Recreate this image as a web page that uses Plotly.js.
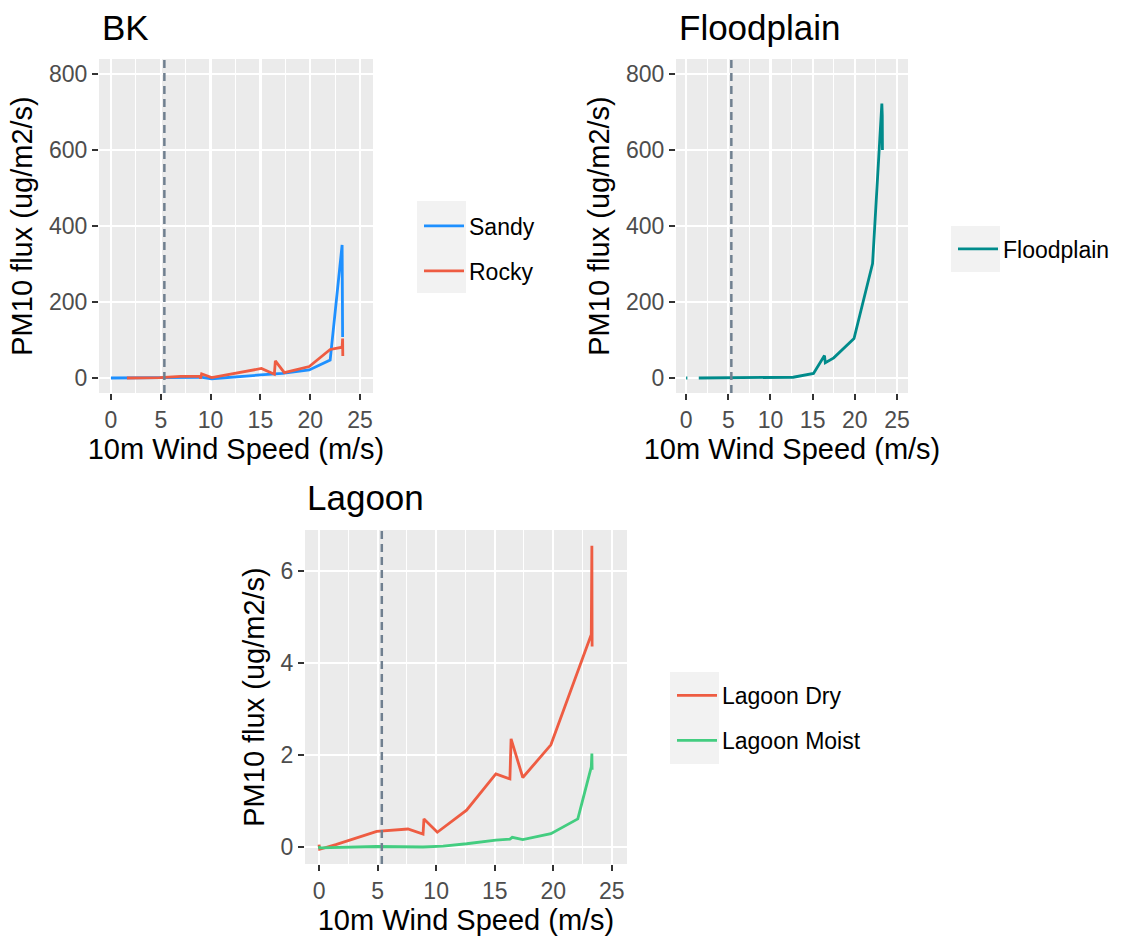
<!DOCTYPE html>
<html>
<head>
<meta charset="utf-8">
<script src="https://cdn.plot.ly/plotly-3.0.1.min.js"></script>
<style>
html,body{margin:0;padding:0;background:#fff;}
#chart{width:1127px;height:938px;}
</style>
</head>
<body>
<div id="chart"></div>
<script>
// ---- data ----
var bkSandyX = [0, 1.5, 5, 9, 10.1, 15, 17.2, 19.9, 22.0, 23.2, 23.25];
var bkSandyY = [0, 0, 1, 2, -2, 8, 12, 21, 47, 350, 108];

var bkRockyX = [1.6, 4.9, 7, 8.9, 9.0, 9.1, 10.1, 15.1, 16.4, 16.5, 17.4, 19.9, 22.0, 23.2, 23.25, 23.27];
var bkRockyY = [0, 1, 4, 5, -1, 11, 1, 25, 10, 45, 14, 30, 75, 81, 104, 58];

var floodX = [0, 0.15, 0.8, 1.5, 5, 11.3, 12.7, 15.1, 16.4, 16.5, 17.5, 19.9, 22.1, 23.2, 23.25, 23.27];
var floodY = [0, 0, null, 0, 0.5, 1, 2, 12, 59, 40, 53, 104, 301, 722, 690, 600];

var lagDryX = [0, 0.05, 1.43, 3.15, 4.93, 7.59, 8.88, 8.96, 10.1, 12.6, 15.1, 16.3, 16.4, 17.4, 19.8, 23.25, 23.3, 23.32];
var lagDryY = [0.05, -0.05, 0.05, 0.2, 0.34, 0.39, 0.28, 0.61, 0.32, 0.80, 1.59, 1.48, 2.35, 1.51, 2.22, 4.62, 6.55, 4.36];

var lagMoistX = [0, 0.05, 4.93, 7.59, 8.88, 10.6, 12.6, 15.1, 16.3, 16.5, 17.4, 19.8, 22.1, 23.25, 23.3, 23.32];
var lagMoistY = [0.02, -0.02, 0.01, 0.0, 0.0, 0.02, 0.07, 0.15, 0.17, 0.21, 0.16, 0.29, 0.61, 1.74, 2.03, 1.68];

var thresholdSpeed = 5.36;
var panelTitles = ["BK", "Floodplain", "Lagoon"];
var xTitle = "10m Wind Speed (m/s)";
var yTitle = "PM10 flux (ug/m2/s)";
var xTicks = [0, 5, 10, 15, 20, 25];
var yTicksBig = [0, 200, 400, 600, 800];
var yTicksLagoon = [0, 2, 4, 6];

// ---- styling ----
var W = 1127, H = 938;
var FONT = "Liberation Sans, Arial, sans-serif";
function px(a, b) { return [a / W, b / W]; }
function py(top, bottom) { return [1 - bottom / H, 1 - top / H]; }

var traces = [
  {x: bkSandyX, y: bkSandyY, name: "Sandy", mode: "lines", line: {color: "#1E90FF", width: 2.8},
   xaxis: "x", yaxis: "y", legend: "legend", legendgroup: "a"},
  {x: bkRockyX, y: bkRockyY, name: "Rocky", mode: "lines", line: {color: "#EE5C42", width: 2.8},
   xaxis: "x", yaxis: "y", legend: "legend", legendgroup: "b"},
  {x: floodX, y: floodY, name: "Floodplain", mode: "lines", line: {color: "#008B8B", width: 2.8},
   xaxis: "x2", yaxis: "y2", legend: "legend2", connectgaps: false},
  {x: lagDryX, y: lagDryY, name: "Lagoon Dry", mode: "lines", line: {color: "#EE5C42", width: 2.8},
   xaxis: "x3", yaxis: "y3", legend: "legend3", legendgroup: "c"},
  {x: lagMoistX, y: lagMoistY, name: "Lagoon Moist", mode: "lines", line: {color: "#43CD80", width: 2.8},
   xaxis: "x3", yaxis: "y3", legend: "legend3", legendgroup: "d"}
];

function xAxis(domain, anchor) {
  return {
    domain: domain, anchor: anchor, range: [-1.2, 26.3],
    tickvals: xTicks, ticks: "outside", ticklen: 6, tickwidth: 2, tickcolor: "#333333",
    tickfont: {family: FONT, size: 23, color: "#4D4D4D"},
    showgrid: true, gridcolor: "#FFFFFF", gridwidth: 2.2, zeroline: false, showline: false,
    minor: {dtick: 2.5, tick0: 2.5, showgrid: true, gridcolor: "#FFFFFF", gridwidth: 1, ticks: ""},
    title: {text: xTitle, font: {family: FONT, size: 29, color: "#000000"}, standoff: 6},
    fixedrange: true
  };
}
function yAxis(domain, anchor, range, ticks, minorDtick) {
  return {
    domain: domain, anchor: anchor, range: range,
    tickvals: ticks, ticks: "outside", ticklen: 6, tickwidth: 2, tickcolor: "#333333",
    tickfont: {family: FONT, size: 23, color: "#4D4D4D"},
    showgrid: true, gridcolor: "#FFFFFF", gridwidth: 2.2, zeroline: false, showline: false,
    minor: {dtick: minorDtick, tick0: minorDtick, showgrid: true, gridcolor: "#FFFFFF", gridwidth: 1, ticks: ""},
    title: {text: yTitle, font: {family: FONT, size: 29, color: "#000000"}, standoff: 7},
    fixedrange: true
  };
}

var topY = py(59, 393);
var layout = {
  width: W, height: H,
  margin: {l: 0, r: 0, t: 0, b: 0},
  paper_bgcolor: "#FFFFFF",
  plot_bgcolor: "#EBEBEB",
  font: {family: FONT},
  xaxis: xAxis(px(99, 373), "y"),
  yaxis: yAxis(topY, "x", [-39.5, 839.5], yTicksBig, 200),
  xaxis2: xAxis(px(676, 908), "y2"),
  yaxis2: yAxis(topY, "x2", [-39.5, 839.5], yTicksBig, 200),
  xaxis3: xAxis(px(305, 627), "y3"),
  yaxis3: yAxis(py(530, 864), "x3", [-0.37, 6.89], yTicksLagoon, 2),
  showlegend: true,
  legend: {x: 419 / W, xanchor: "left", y: 1 - 248.5 / H, yanchor: "middle",
           bgcolor: "rgba(0,0,0,0)", itemwidth: 40, tracegroupgap: 12,
           font: {family: FONT, size: 23, color: "#000000"}},
  legend2: {x: 953 / W, xanchor: "left", y: 1 - 249 / H, yanchor: "middle",
            bgcolor: "rgba(0,0,0,0)", itemwidth: 40,
            font: {family: FONT, size: 23, color: "#000000"}},
  legend3: {x: 672 / W, xanchor: "left", y: 1 - 718 / H, yanchor: "middle",
            bgcolor: "rgba(0,0,0,0)", itemwidth: 40, tracegroupgap: 12,
            font: {family: FONT, size: 23, color: "#000000"}},
  shapes: [],
  annotations: []
};

// dashed threshold lines
[["x", "y"], ["x2", "y2"], ["x3", "y3"]].forEach(function (r) {
  layout.shapes.push({type: "line", xref: r[0], yref: r[1] + " domain",
    x0: thresholdSpeed, x1: thresholdSpeed, y0: 0, y1: 1,
    line: {color: "#708090", width: 2.5, dash: "8px,5px"}});
});
// legend key backgrounds (ggplot grey95 key panel)
[[417, 201, 466, 293], [951, 226, 1000, 272], [670, 672, 719, 764]].forEach(function (b) {
  layout.shapes.push({type: "rect", xref: "paper", yref: "paper", layer: "below",
    x0: b[0] / W, x1: b[2] / W, y0: 1 - b[3] / H, y1: 1 - b[1] / H,
    fillcolor: "#F2F2F2", line: {width: 0}});
});
// panel titles
[[panelTitles[0], 100, 27], [panelTitles[1], 677, 27], [panelTitles[2], 305, 497]].forEach(function (t) {
  layout.annotations.push({text: t[0], xref: "paper", yref: "paper", showarrow: false,
    x: t[1] / W, y: 1 - t[2] / H, xanchor: "left", yanchor: "middle",
    font: {family: FONT, size: 35, color: "#000000"}});
});

Plotly.newPlot("chart", traces, layout, {staticPlot: true, displayModeBar: false});
</script>
</body>
</html>
